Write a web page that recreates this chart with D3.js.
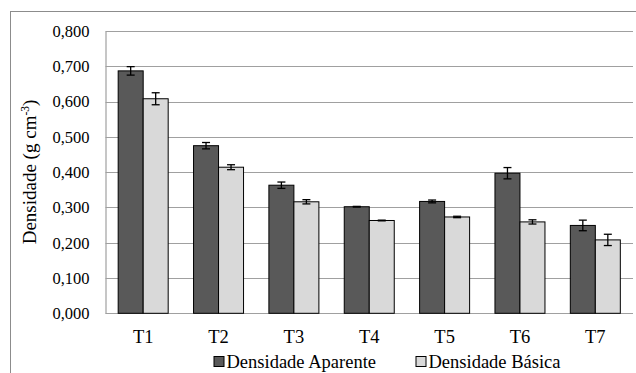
<!DOCTYPE html>
<html>
<head>
<meta charset="utf-8">
<script src="https://cdn.jsdelivr.net/npm/d3@7"></script>
<style>
  html, body { margin: 0; padding: 0; background: #fff; }
  text { font-family: "Liberation Serif", "Times New Roman", Tinos; }
</style>
</head>
<body>
<svg id="chart" width="636" height="373" font-family="Liberation Serif"></svg>
<script>
// Treatments
const categories = ["T1", "T2", "T3", "T4", "T5", "T6", "T7"];
const seriesNames = ["Densidade Aparente", "Densidade Básica"];
// Means (g cm-3)
const aparente = [0.687, 0.475, 0.363, 0.302, 0.317, 0.397, 0.249];
const basica   = [0.608, 0.414, 0.316, 0.263, 0.273, 0.259, 0.208];
// Error bar half-widths
const aparenteErr = [0.012, 0.009, 0.009, 0.001, 0.004, 0.016, 0.015];
const basicaErr   = [0.017, 0.007, 0.006, 0.001, 0.002, 0.006, 0.016];
const yTicks = [0, 0.1, 0.2, 0.3, 0.4, 0.5, 0.6, 0.7, 0.8];

const seriesColors = ["#595959", "#d9d9d9"];
const serifFace = '"Liberation Serif", "Times New Roman", Tinos';

const svg = d3.select("#chart");
const W = 636, H = 373;
const plot = { left: 105.5, right: 633, top: 31, bottom: 313.3 };

// outer chart frame
svg.append("rect")
  .attr("x", 10.5).attr("y", 11.5)
  .attr("width", W).attr("height", H)
  .attr("fill", "none").attr("stroke", "#8c8c8c").attr("stroke-width", 1);

const x = d3.scaleBand().domain(categories)
  .range([plot.left, plot.right])
  .paddingInner(0.3365).paddingOuter(0.3365 / 2);
const xs = d3.scaleBand().domain(seriesNames).range([0, x.bandwidth()]);
const y = d3.scaleLinear().domain([0, 0.8]).range([plot.bottom, plot.top]);

const fmt = v => d3.format(".3f")(v).replace(".", ",");

// horizontal grid lines
svg.append("g").selectAll("line").data(yTicks).join("line")
  .attr("x1", plot.left).attr("x2", plot.right)
  .attr("y1", d => Math.round(y(d)) + 0.5).attr("y2", d => Math.round(y(d)) + 0.5)
  .attr("stroke", "#a0a0a0").attr("stroke-width", 1.2);

// y axis
const yAxis = d3.axisLeft(y).tickValues(yTicks).tickFormat(fmt).tickSize(0).tickPadding(16);
const gy = svg.append("g").attr("transform", `translate(${plot.left},0)`).call(yAxis);
gy.attr("font-family", null).attr("font-size", null);
gy.select(".domain").attr("stroke", "#a0a0a0").attr("stroke-width", 1.2);
gy.selectAll("text").attr("font-size", 16.5).attr("fill", "#000").style("font-family", serifFace);

// x axis labels
const xAxis = d3.axisBottom(x).tickSize(0).tickPadding(17);
const gx = svg.append("g").attr("transform", `translate(0,${plot.bottom})`).call(xAxis);
gx.attr("font-family", null).attr("font-size", null);
gx.select(".domain").remove();
gx.selectAll("text").attr("font-size", 18.5).attr("fill", "#000").style("font-family", serifFace);

// bars
const rows = categories.map((c, i) => ({
  cat: c,
  vals: [
    { s: seriesNames[0], v: aparente[i], e: aparenteErr[i], k: 0 },
    { s: seriesNames[1], v: basica[i], e: basicaErr[i], k: 1 }
  ]
}));

const groups = svg.append("g").selectAll("g").data(rows).join("g")
  .attr("transform", d => `translate(${x(d.cat)},0)`);

groups.selectAll("rect").data(d => d.vals).join("rect")
  .attr("x", d => xs(d.s))
  .attr("y", d => y(d.v))
  .attr("width", xs.bandwidth())
  .attr("height", d => y(0) - y(d.v))
  .attr("fill", d => seriesColors[d.k])
  .attr("stroke", "#000").attr("stroke-width", 1);

// error bars
const eb = groups.selectAll("g.err").data(d => d.vals).join("g").attr("class", "err")
  .attr("transform", d => `translate(${xs(d.s) + xs.bandwidth() / 2},0)`);
eb.append("line").attr("x1", 0).attr("x2", 0)
  .attr("y1", d => y(d.v + d.e)).attr("y2", d => y(d.v - d.e))
  .attr("stroke", "#000").attr("stroke-width", 1.3);
eb.append("line").attr("x1", -4).attr("x2", 4)
  .attr("y1", d => y(d.v + d.e)).attr("y2", d => y(d.v + d.e))
  .attr("stroke", "#000").attr("stroke-width", 1.3);
eb.append("line").attr("x1", -4).attr("x2", 4)
  .attr("y1", d => y(d.v - d.e)).attr("y2", d => y(d.v - d.e))
  .attr("stroke", "#000").attr("stroke-width", 1.3);

// y axis title
const title = svg.append("text")
  .attr("transform", "translate(36,172) rotate(-90)")
  .attr("text-anchor", "middle")
  .attr("font-size", 19).attr("fill", "#000").style("font-family", serifFace);
title.append("tspan").text("Densidade (g cm");
title.append("tspan").attr("font-size", 11.5).attr("dy", -7).text("-3");
title.append("tspan").attr("dy", 7).text(")");

// legend
const legendX = [214, 416];
const lg = svg.append("g").selectAll("g").data(seriesNames).join("g")
  .attr("transform", (d, i) => `translate(${legendX[i]},356.5)`);
lg.append("rect").attr("width", 10).attr("height", 10)
  .attr("fill", (d, i) => seriesColors[i]).attr("stroke", "#000").attr("stroke-width", 1);
lg.append("text").attr("x", 12.5).attr("y", 11)
  .attr("font-size", 18.5).attr("fill", "#000").style("font-family", serifFace).text(d => d);
</script>
</body>
</html>
